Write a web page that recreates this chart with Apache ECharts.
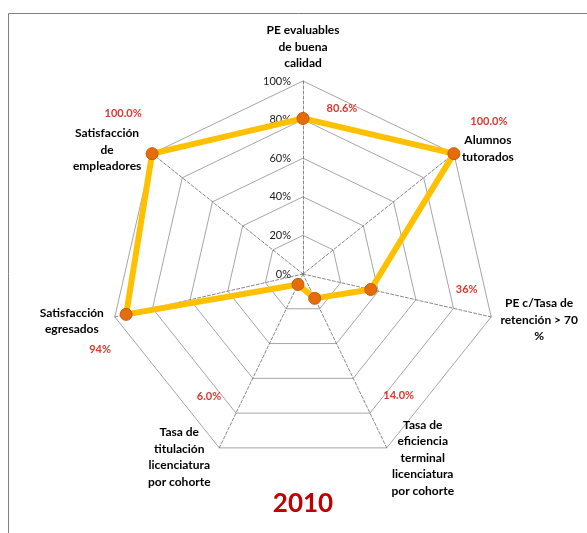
<!DOCTYPE html>
<html><head><meta charset="utf-8">
<script src="https://cdn.jsdelivr.net/npm/echarts@6/dist/echarts.min.js"></script>
<style>html,body{margin:0;padding:0;background:#fff}#c{width:587px;height:533px}</style>
</head><body><div id="c"></div>
<script>
// Indicators in ECharts order (counter-clockwise from the top)
const categories = [
  'PE evaluables\nde buena\ncalidad',
  'Satisfacción\nde\nempleadores',
  'Satisfacción\negresados',
  'Tasa de\ntitulación\nlicenciatura\npor cohorte',
  'Tasa de\neficiencia\nterminal\nlicenciatura\npor cohorte',
  'PE c/Tasa de\nretención > 70\n%',
  'Alumnos\ntutorados'
];
const values = [80.6, 100, 94, 6, 14, 36, 100];
const valueLabels = ['80.6%', '100.0%', '94%', '6.0%', '14.0%', '36%', '100.0%'];
const tickValues = [0, 20, 40, 60, 80, 100];
const tickLabels = ['0%', '20%', '40%', '60%', '80%', '100%'];
const yearLabel = '2010';

// layout (pixel shifts of text relative to its anchor)
const nameShift = [[0,-34],[-45,-4],[-43,4],[-40,9],[36,10],[48,3],[34,-5]];
const labelShift = [[39,-10],[-29,-40],[-26,35],[-89,112],[84,97],[96,0],[35,-32]];
function pad(s){const dx=s[0],dy=s[1];return [Math.max(0,2*dy),Math.max(0,-2*dx),Math.max(0,-2*dy),Math.max(0,2*dx)];}
// split a name shift into a gap along the axis plus a horizontal padding
function nameLayout(i){
  const a=Math.PI/2+i*2*Math.PI/categories.length;
  const ux=Math.cos(a), uy=-Math.sin(a);
  const s=nameShift[i];
  const g=Math.abs(uy)>1e-6?Math.max(0,s[1]/uy):0;
  const rx=s[0]-g*ux;
  return {gap:g,padding:[0,Math.max(0,-2*rx),0,Math.max(0,2*rx)]};
}

const FONT = 'Lato';
const rich = {};
labelShift.forEach((s,i)=>{rich['d'+i]={color:'#D9392E',fontWeight:'bold',fontSize:11,fontFamily:FONT,padding:pad(s)};});

const chart = echarts.init(document.getElementById('c'), null, {renderer:'canvas'});
chart.setOption({
  backgroundColor:'#fff',
  animation:false,
  title:{text:yearLabel,left:298,top:486,textAlign:'center',
    textStyle:{color:'#C00000',fontSize:26,fontWeight:'bold',fontFamily:FONT}},
  graphic:[{type:'rect',shape:{x:8.5,y:13.5,width:800,height:800},style:{fill:'none',stroke:'#808080',lineWidth:1},silent:true}],
  radar:{
    center:[303,274], radius:193, startAngle:90, splitNumber:5, shape:'polygon',
    axisNameGap:0,
    axisName:{color:'#000',fontFamily:FONT,fontWeight:'bold',fontSize:12,lineHeight:16.5},
    axisLine:{lineStyle:{color:'#6a6a6a',type:[3,2],width:0.8}},
    splitLine:{lineStyle:{color:'#a6a6a6',width:1}},
    splitArea:{show:false},
    axisTick:{show:false},
    axisLabel:{show:false,color:'#1a1a1a',fontSize:11,fontFamily:FONT,margin:12,
      formatter:v=>{const k=tickValues.indexOf(Math.round(v));return k>=0?tickLabels[k]:'';}},
    indicator:categories.map((name,i)=>{
      const L=nameLayout(i);
      return {
        name:name,min:0,max:100,
        nameMoveOverlap:false,
        nameGap:L.gap,
        nameTextStyle:{align:'center',verticalAlign:'middle',padding:L.padding},
        axisLabel:{show:i===0}
      };
    })
  },
  series:[{
    type:'radar',
    symbol:'circle',symbolSize:12,
    lineStyle:{color:'#FFC000',width:6},
    itemStyle:{color:'#E46C0A',borderColor:'#C85A06',borderWidth:1},
    label:{show:true,position:'inside',
      formatter:p=>'{d'+p.dimensionIndex+'|'+valueLabels[p.dimensionIndex]+'}',
      rich:rich},
    data:[{value:values}]
  }]
});
</script></body></html>
